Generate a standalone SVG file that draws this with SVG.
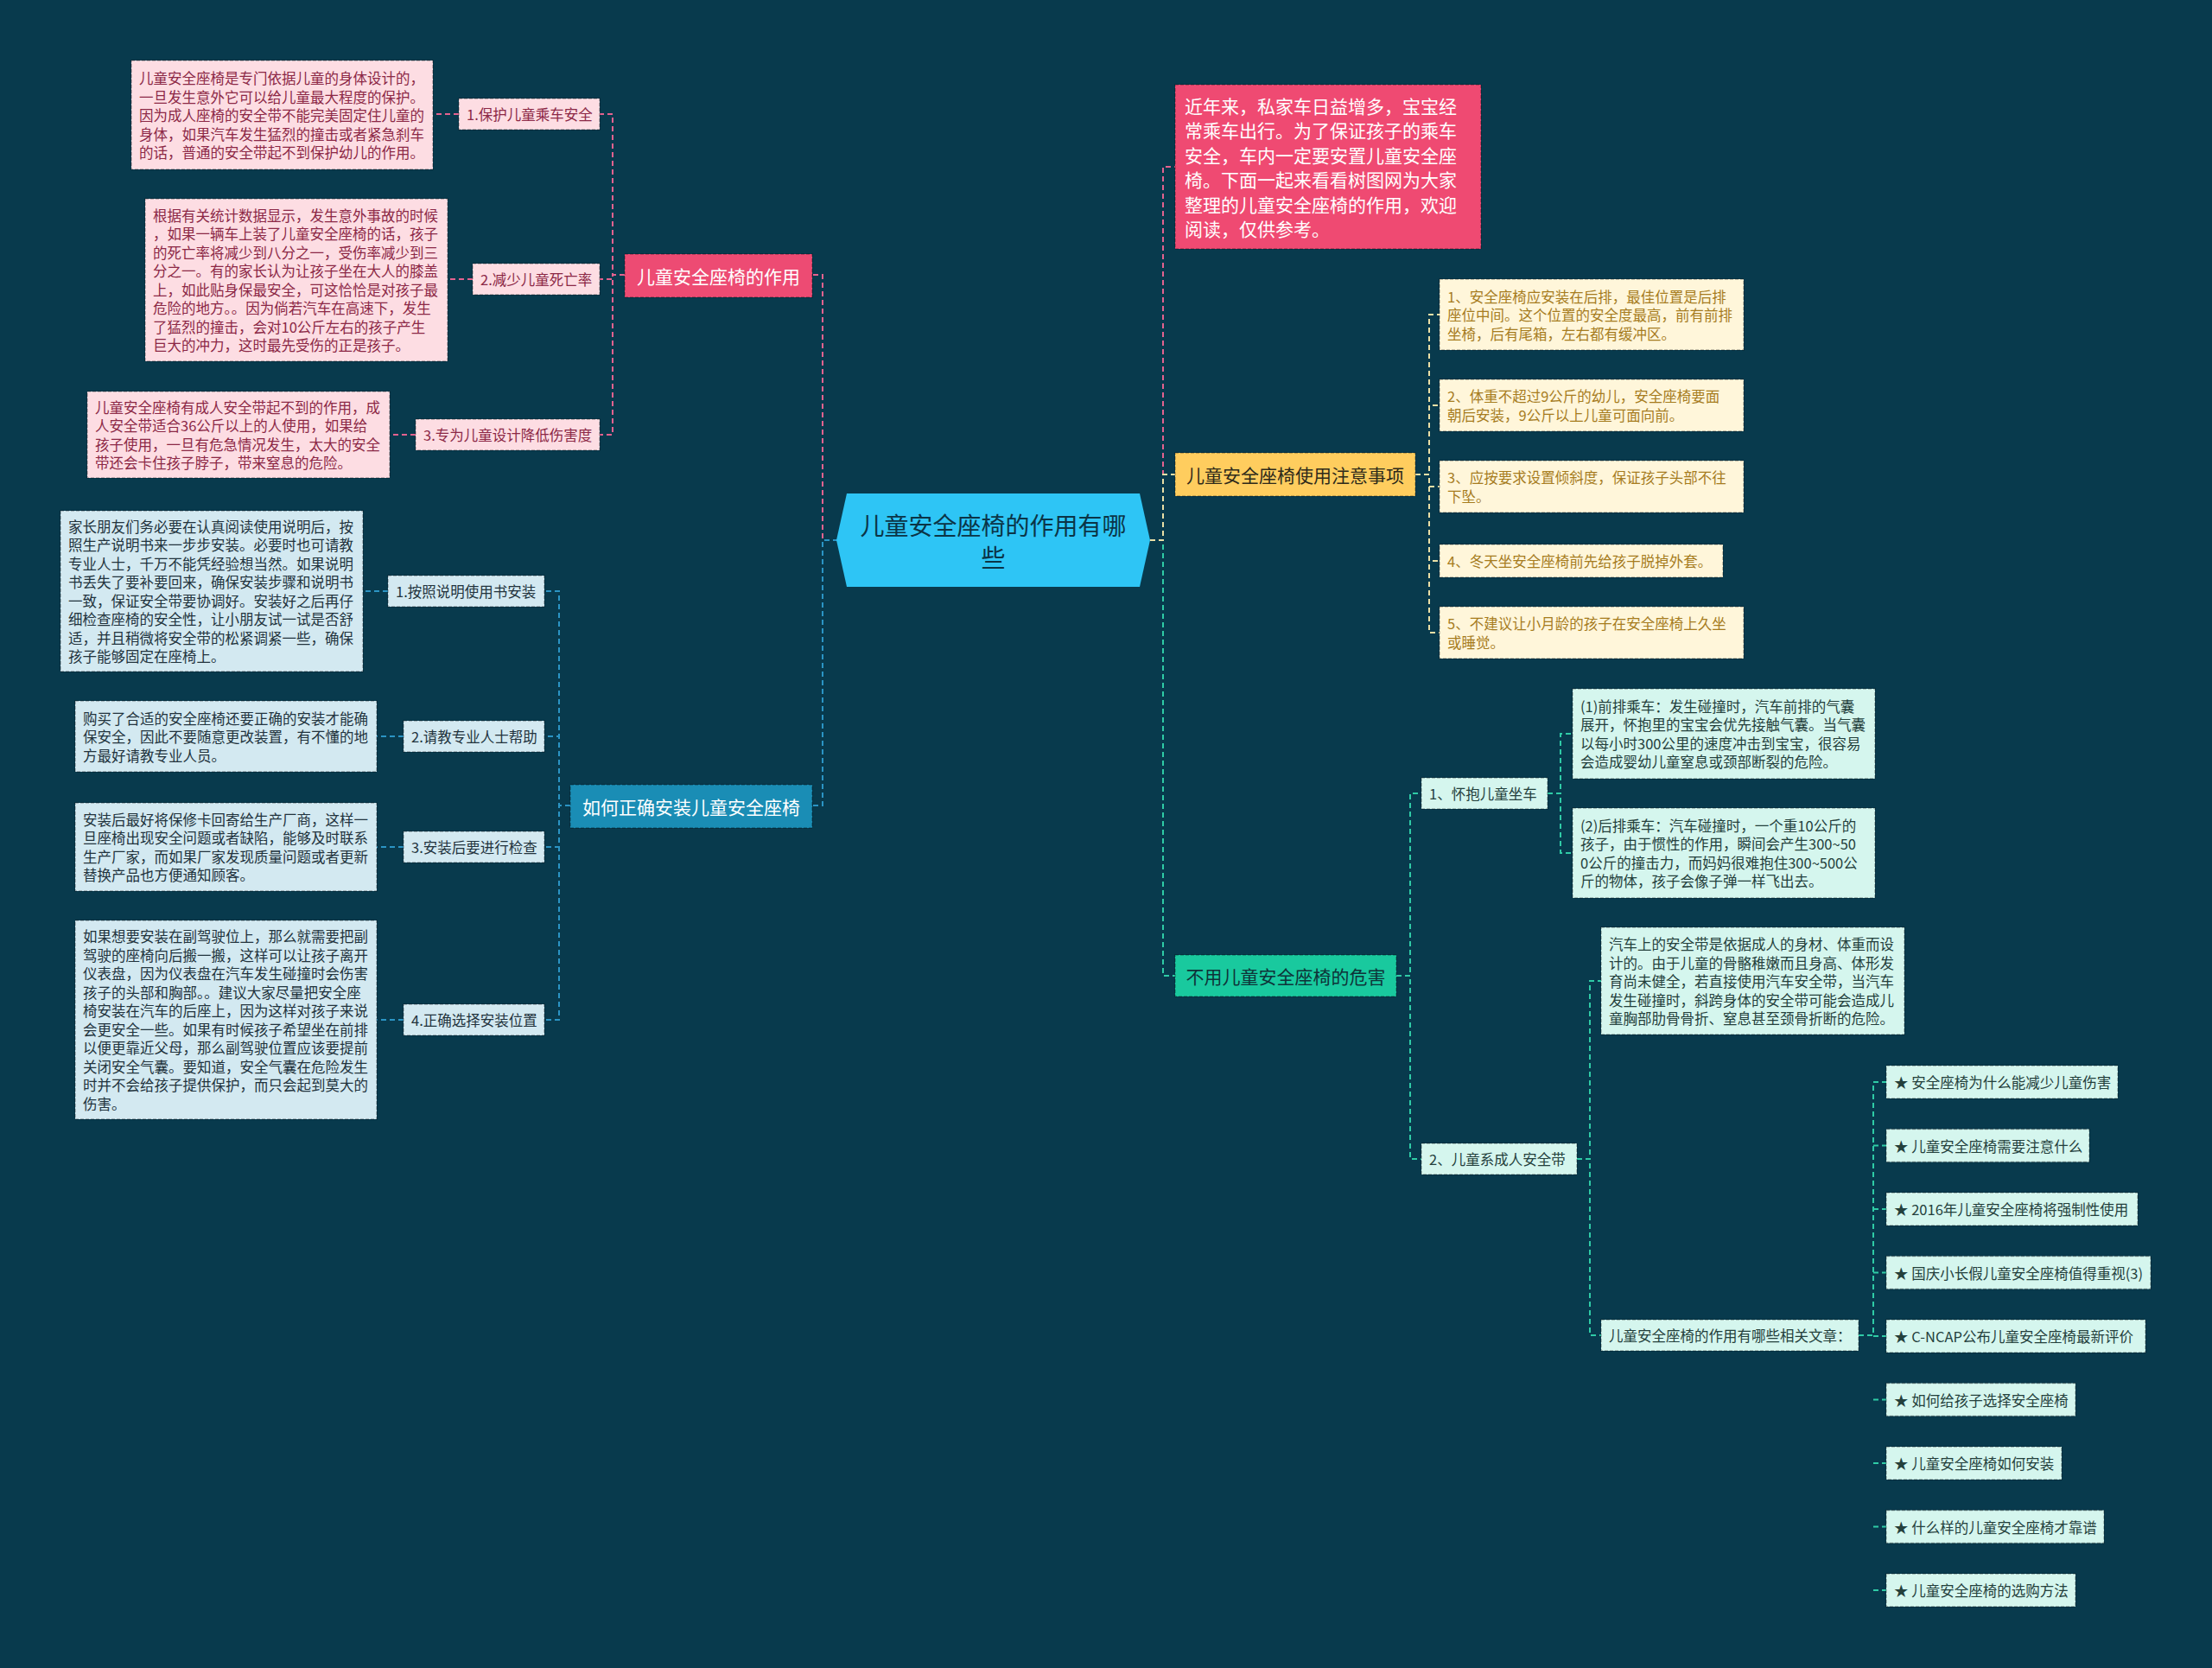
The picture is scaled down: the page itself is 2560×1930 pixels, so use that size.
<svg xmlns="http://www.w3.org/2000/svg" width="2560" height="1930" viewBox="0 0 2560 1930">
<style>
text { font-family: "Noto Sans CJK SC", "Noto Sans", sans-serif; dominant-baseline: central; }
.bd { stroke: rgba(0,0,0,0.28); stroke-width: 1.5; stroke-dasharray: 4 2; }
.c { fill: none; stroke-width: 2; stroke-dasharray: 6 4; }
.cp { stroke: #E3628F; } .cb { stroke: #2B94C4; } .cy { stroke: #EADFA6; } .cg { stroke: #2FCBA6; }
.pk { fill: #FDDDE3; } .pkt { fill: #8C2846; font-size: 16.5px; }
.bl { fill: #D3E9F1; } .blt { fill: #22333D; font-size: 16.5px; }
.ye { fill: #FFF6DA; } .yet { fill: #A67C1E; font-size: 16.5px; }
.gr { fill: #D5F6EE; } .grt { fill: #24403C; font-size: 16.5px; }
.n1 { font-size: 21px; text-anchor: middle; }
</style>
<rect x="0" y="0" width="2560" height="1930" fill="#083A4D"/>

<g id="connectors">
  <path class="c cp" d="M970,625 H952 V318 H940"/>
  <path class="c cb" d="M970,625 H952 V932 H940"/>
  <path class="c cp" d="M723,318 H709 V132 H694 M723,318 H709 V323 H694 M723,318 H709 V503 H694"/>
  <path class="c cp" d="M531,132 H501 M547,323 H518 M481,503 H451"/>
  <path class="c cb" d="M660,932 H647 V684 H630 M660,932 H647 V852 H630 M660,932 H647 V980 H630 M660,932 H647 V1180 H630"/>
  <path class="c cb" d="M449,684 H420 M467,852 H436 M467,980 H436 M467,1180 H436"/>
  <path class="c cp" d="M1331,625 H1346 V193 H1360"/>
  <path class="c cg" d="M1331,625 H1346 V1129 H1360"/>
  <path class="c cy" d="M1331,625 H1346 V549 H1360"/>
  <path class="c cy" d="M1638,549 H1654 V364 H1666 M1638,549 H1654 V469 H1666 M1638,549 H1654 V563 H1666 M1638,549 H1654 V649 H1666 M1638,549 H1654 V732 H1666"/>
  <path class="c cg" d="M1616,1129 H1632 V918 H1645 M1616,1129 H1632 V1341 H1645"/>
  <path class="c cg" d="M1791,918 H1806 V849 H1820 M1791,918 H1806 V987 H1820"/>
  <path class="c cg" d="M1825,1341 H1840 V1135 H1853 M1825,1341 H1840 V1545 H1853"/>
  <path class="c cg" d="M2151,1545 H2168 V1252 H2183 M2168,1325.5 H2183 M2168,1399 H2183 M2168,1472.5 H2183 M2168,1546 H2183 M2168,1619.5 H2183 M2168,1693 H2183 M2168,1766.5 H2183 M2168,1840 H2183"/>
</g>

<g id="root">
  <polygon points="980,571 1319,571 1331,625 1319,679 980,679 968,625" fill="#2EC5F5"/>
  <text x="1149.5" y="607" font-size="28" text-anchor="middle" fill="#0B3446">儿童安全座椅的作用有哪</text>
  <text x="1149.5" y="644" font-size="28" text-anchor="middle" fill="#0B3446">些</text>
</g>

<!-- Pink branch -->
<g id="n-pink">
  <rect class="bd" x="723" y="294" width="217" height="50" fill="#ED4B73"/>
  <text class="n1" x="831.5" y="319" fill="#FFFFFF">儿童安全座椅的作用</text>
</g>
<g id="n-pink-l1">
  <rect class="pk bd" x="531" y="114" width="163" height="36"/>
  <text class="pkt" x="540" y="132">1.保护儿童乘车安全</text>
</g>
<g id="n-pink-t1">
  <rect class="pk bd" x="152" y="70" width="349" height="126"/>
  <text class="pkt" x="161" y="90"><tspan x="161">儿童安全座椅是专门依据儿童的身体设计的，</tspan><tspan x="161" dy="21.5">一旦发生意外它可以给儿童最大程度的保护。</tspan><tspan x="161" dy="21.5">因为成人座椅的安全带不能完美固定住儿童的</tspan><tspan x="161" dy="21.5">身体，如果汽车发生猛烈的撞击或者紧急刹车</tspan><tspan x="161" dy="21.5">的话，普通的安全带起不到保护幼儿的作用。</tspan></text>
</g>
<g id="n-pink-l2">
  <rect class="pk bd" x="547" y="305" width="147" height="36"/>
  <text class="pkt" x="556" y="323">2.减少儿童死亡率</text>
</g>
<g id="n-pink-t2">
  <rect class="pk bd" x="168" y="230" width="350" height="188"/>
  <text class="pkt" x="177" y="248.75"><tspan x="177">根据有关统计数据显示，发生意外事故的时候</tspan><tspan x="177" dy="21.5">，如果一辆车上装了儿童安全座椅的话，孩子</tspan><tspan x="177" dy="21.5">的死亡率将减少到八分之一，受伤率减少到三</tspan><tspan x="177" dy="21.5">分之一。有的家长认为让孩子坐在大人的膝盖</tspan><tspan x="177" dy="21.5">上，如此贴身保最安全，可这恰恰是对孩子最</tspan><tspan x="177" dy="21.5">危险的地方。。因为倘若汽车在高速下，发生</tspan><tspan x="177" dy="21.5">了猛烈的撞击，会对10公斤左右的孩子产生</tspan><tspan x="177" dy="21.5">巨大的冲力，这时最先受伤的正是孩子。</tspan></text>
</g>
<g id="n-pink-l3">
  <rect class="pk bd" x="481" y="485" width="213" height="36"/>
  <text class="pkt" x="490" y="503">3.专为儿童设计降低伤害度</text>
</g>
<g id="n-pink-t3">
  <rect class="pk bd" x="101" y="453" width="350" height="100"/>
  <text class="pkt" x="110" y="470.75"><tspan x="110">儿童安全座椅有成人安全带起不到的作用，成</tspan><tspan x="110" dy="21.5">人安全带适合36公斤以上的人使用，如果给</tspan><tspan x="110" dy="21.5">孩子使用，一旦有危急情况发生，太大的安全</tspan><tspan x="110" dy="21.5">带还会卡住孩子脖子，带来窒息的危险。</tspan></text>
</g>

<!-- Blue branch -->
<g id="n-blue">
  <rect class="bd" x="660" y="908" width="280" height="50" fill="#1A8DB5"/>
  <text class="n1" x="800" y="933" fill="#FFFFFF">如何正确安装儿童安全座椅</text>
</g>
<g id="n-blue-l1">
  <rect class="bl bd" x="449" y="666" width="181" height="36"/>
  <text class="blt" x="458" y="684">1.按照说明使用书安装</text>
</g>
<g id="n-blue-t1">
  <rect class="bl bd" x="70" y="591" width="350" height="186"/>
  <text class="blt" x="79" y="608.75"><tspan x="79">家长朋友们务必要在认真阅读使用说明后，按</tspan><tspan x="79" dy="21.5">照生产说明书来一步步安装。必要时也可请教</tspan><tspan x="79" dy="21.5">专业人士，千万不能凭经验想当然。如果说明</tspan><tspan x="79" dy="21.5">书丢失了要补要回来，确保安装步骤和说明书</tspan><tspan x="79" dy="21.5">一致，保证安全带要协调好。安装好之后再仔</tspan><tspan x="79" dy="21.5">细检查座椅的安全性，让小朋友试一试是否舒</tspan><tspan x="79" dy="21.5">适，并且稍微将安全带的松紧调紧一些，确保</tspan><tspan x="79" dy="21.5">孩子能够固定在座椅上。</tspan></text>
</g>
<g id="n-blue-l2">
  <rect class="bl bd" x="467" y="834" width="163" height="36"/>
  <text class="blt" x="476" y="852">2.请教专业人士帮助</text>
</g>
<g id="n-blue-t2">
  <rect class="bl bd" x="87" y="811" width="349" height="82"/>
  <text class="blt" x="96" y="830.5"><tspan x="96">购买了合适的安全座椅还要正确的安装才能确</tspan><tspan x="96" dy="21.5">保安全，因此不要随意更改装置，有不懂的地</tspan><tspan x="96" dy="21.5">方最好请教专业人员。</tspan></text>
</g>
<g id="n-blue-l3">
  <rect class="bl bd" x="467" y="962" width="163" height="36"/>
  <text class="blt" x="476" y="980">3.安装后要进行检查</text>
</g>
<g id="n-blue-t3">
  <rect class="bl bd" x="87" y="929" width="349" height="102"/>
  <text class="blt" x="96" y="947.75"><tspan x="96">安装后最好将保修卡回寄给生产厂商，这样一</tspan><tspan x="96" dy="21.5">旦座椅出现安全问题或者缺陷，能够及时联系</tspan><tspan x="96" dy="21.5">生产厂家，而如果厂家发现质量问题或者更新</tspan><tspan x="96" dy="21.5">替换产品也方便通知顾客。</tspan></text>
</g>
<g id="n-blue-l4">
  <rect class="bl bd" x="467" y="1162" width="163" height="36"/>
  <text class="blt" x="476" y="1180">4.正确选择安装位置</text>
</g>
<g id="n-blue-t4">
  <rect class="bl bd" x="87" y="1065" width="349" height="230"/>
  <text class="blt" x="96" y="1083.25"><tspan x="96">如果想要安装在副驾驶位上，那么就需要把副</tspan><tspan x="96" dy="21.5">驾驶的座椅向后搬一搬，这样可以让孩子离开</tspan><tspan x="96" dy="21.5">仪表盘，因为仪表盘在汽车发生碰撞时会伤害</tspan><tspan x="96" dy="21.5">孩子的头部和胸部。。建议大家尽量把安全座</tspan><tspan x="96" dy="21.5">椅安装在汽车的后座上，因为这样对孩子来说</tspan><tspan x="96" dy="21.5">会更安全一些。如果有时候孩子希望坐在前排</tspan><tspan x="96" dy="21.5">以便更靠近父母，那么副驾驶位置应该要提前</tspan><tspan x="96" dy="21.5">关闭安全气囊。要知道，安全气囊在危险发生</tspan><tspan x="96" dy="21.5">时并不会给孩子提供保护，而只会起到莫大的</tspan><tspan x="96" dy="21.5">伤害。</tspan></text>
</g>

<!-- Right: intro -->
<g id="n-intro">
  <rect class="bd" x="1360" y="98" width="354" height="190" fill="#EF4A72"/>
  <text x="1371" y="121.75" font-size="21" fill="#FFFFFF"><tspan x="1371">近年来，私家车日益增多，宝宝经</tspan><tspan x="1371" dy="28.5">常乘车出行。为了保证孩子的乘车</tspan><tspan x="1371" dy="28.5">安全，车内一定要安置儿童安全座</tspan><tspan x="1371" dy="28.5">椅。下面一起来看看树图网为大家</tspan><tspan x="1371" dy="28.5">整理的儿童安全座椅的作用，欢迎</tspan><tspan x="1371" dy="28.5">阅读，仅供参考。</tspan></text>
</g>

<!-- Yellow branch -->
<g id="n-yellow">
  <rect class="bd" x="1360" y="524" width="278" height="50" fill="#FFCD5E"/>
  <text class="n1" x="1499" y="549" fill="#2E2A1A">儿童安全座椅使用注意事项</text>
</g>
<g id="n-yellow-1">
  <rect class="ye bd" x="1666" y="323" width="352" height="82"/>
  <text class="yet" x="1675" y="342.5"><tspan x="1675">1、安全座椅应安装在后排，最佳位置是后排</tspan><tspan x="1675" dy="21.5">座位中间。这个位置的安全度最高，前有前排</tspan><tspan x="1675" dy="21.5">坐椅，后有尾箱，左右都有缓冲区。</tspan></text>
</g>
<g id="n-yellow-2">
  <rect class="ye bd" x="1666" y="439" width="352" height="60"/>
  <text class="yet" x="1675" y="458.25"><tspan x="1675">2、体重不超过9公斤的幼儿，安全座椅要面</tspan><tspan x="1675" dy="21.5">朝后安装，9公斤以上儿童可面向前。</tspan></text>
</g>
<g id="n-yellow-3">
  <rect class="ye bd" x="1666" y="533" width="352" height="60"/>
  <text class="yet" x="1675" y="552.25"><tspan x="1675">3、应按要求设置倾斜度，保证孩子头部不往</tspan><tspan x="1675" dy="21.5">下坠。</tspan></text>
</g>
<g id="n-yellow-4">
  <rect class="ye bd" x="1666" y="630" width="328" height="38"/>
  <text class="yet" x="1675" y="649">4、冬天坐安全座椅前先给孩子脱掉外套。</text>
</g>
<g id="n-yellow-5">
  <rect class="ye bd" x="1666" y="702" width="352" height="60"/>
  <text class="yet" x="1675" y="721.25"><tspan x="1675">5、不建议让小月龄的孩子在安全座椅上久坐</tspan><tspan x="1675" dy="21.5">或睡觉。</tspan></text>
</g>

<!-- Green branch -->
<g id="n-green">
  <rect class="bd" x="1360" y="1105" width="256" height="48" fill="#19C99E"/>
  <text class="n1" x="1488" y="1129" fill="#0E3338">不用儿童安全座椅的危害</text>
</g>
<g id="n-green-l1">
  <rect class="gr bd" x="1645" y="900" width="146" height="36"/>
  <text class="grt" x="1654" y="918">1、怀抱儿童坐车</text>
</g>
<g id="n-green-t1">
  <rect class="gr bd" x="1820" y="797" width="350" height="104"/>
  <text class="grt" x="1829" y="816.75"><tspan x="1829">(1)前排乘车：发生碰撞时，汽车前排的气囊</tspan><tspan x="1829" dy="21.5">展开，怀抱里的宝宝会优先接触气囊。当气囊</tspan><tspan x="1829" dy="21.5">以每小时300公里的速度冲击到宝宝，很容易</tspan><tspan x="1829" dy="21.5">会造成婴幼儿童窒息或颈部断裂的危险。</tspan></text>
</g>
<g id="n-green-t2">
  <rect class="gr bd" x="1820" y="935" width="350" height="104"/>
  <text class="grt" x="1829" y="954.75"><tspan x="1829">(2)后排乘车：汽车碰撞时，一个重10公斤的</tspan><tspan x="1829" dy="21.5">孩子，由于惯性的作用，瞬间会产生300~50</tspan><tspan x="1829" dy="21.5">0公斤的撞击力，而妈妈很难抱住300~500公</tspan><tspan x="1829" dy="21.5">斤的物体，孩子会像子弹一样飞出去。</tspan></text>
</g>
<g id="n-green-l2">
  <rect class="gr bd" x="1645" y="1323" width="180" height="36"/>
  <text class="grt" x="1654" y="1341">2、儿童系成人安全带</text>
</g>
<g id="n-green-t3">
  <rect class="gr bd" x="1853" y="1073" width="351" height="124"/>
  <text class="grt" x="1862" y="1092"><tspan x="1862">汽车上的安全带是依据成人的身材、体重而设</tspan><tspan x="1862" dy="21.5">计的。由于儿童的骨骼稚嫩而且身高、体形发</tspan><tspan x="1862" dy="21.5">育尚未健全，若直接使用汽车安全带，当汽车</tspan><tspan x="1862" dy="21.5">发生碰撞时，斜跨身体的安全带可能会造成儿</tspan><tspan x="1862" dy="21.5">童胸部肋骨骨折、窒息甚至颈骨折断的危险。</tspan></text>
</g>
<g id="n-green-l3">
  <rect class="gr bd" x="1853" y="1527" width="298" height="36"/>
  <text class="grt" x="1862" y="1545">儿童安全座椅的作用有哪些相关文章：</text>
</g>
<g id="n-item-1"><rect class="gr bd" x="2183" y="1233" width="268" height="38"/><text class="grt" x="2192" y="1252">★ 安全座椅为什么能减少儿童伤害</text></g>
<g id="n-item-2"><rect class="gr bd" x="2183" y="1306.5" width="235" height="38"/><text class="grt" x="2192" y="1325.5">★ 儿童安全座椅需要注意什么</text></g>
<g id="n-item-3"><rect class="gr bd" x="2183" y="1380" width="291" height="38"/><text class="grt" x="2192" y="1399">★ 2016年儿童安全座椅将强制性使用</text></g>
<g id="n-item-4"><rect class="gr bd" x="2183" y="1453.5" width="306" height="38"/><text class="grt" x="2192" y="1472.5">★ 国庆小长假儿童安全座椅值得重视(3)</text></g>
<g id="n-item-5"><rect class="gr bd" x="2183" y="1527" width="300" height="38"/><text class="grt" x="2192" y="1546">★ C-NCAP公布儿童安全座椅最新评价</text></g>
<g id="n-item-6"><rect class="gr bd" x="2183" y="1600.5" width="219" height="38"/><text class="grt" x="2192" y="1619.5">★ 如何给孩子选择安全座椅</text></g>
<g id="n-item-7"><rect class="gr bd" x="2183" y="1674" width="203" height="38"/><text class="grt" x="2192" y="1693">★ 儿童安全座椅如何安装</text></g>
<g id="n-item-8"><rect class="gr bd" x="2183" y="1747.5" width="252" height="38"/><text class="grt" x="2192" y="1766.5">★ 什么样的儿童安全座椅才靠谱</text></g>
<g id="n-item-9"><rect class="gr bd" x="2183" y="1821" width="219" height="38"/><text class="grt" x="2192" y="1840">★ 儿童安全座椅的选购方法</text></g>
</svg>
